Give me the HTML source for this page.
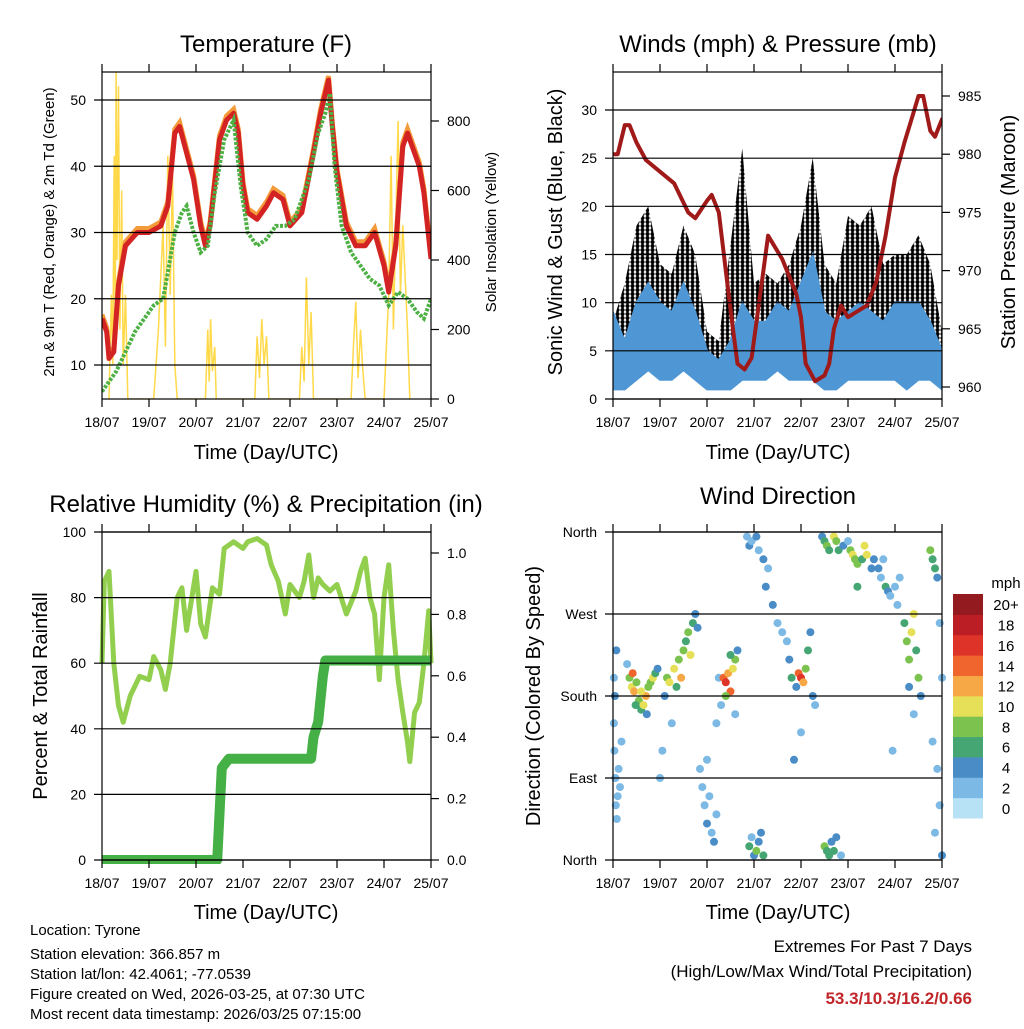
<!DOCTYPE html>
<html><head><meta charset="utf-8"><style>
body{margin:0;background:#fff;}
svg text{font-family:"Liberation Sans",Arial,sans-serif;fill:#000;}
</style></head><body>
<svg id="s" width="1024" height="1024" xmlns="http://www.w3.org/2000/svg">
<defs>
<pattern id="dots" width="5" height="4" patternUnits="userSpaceOnUse"><circle cx="2.5" cy="2" r="2.1" fill="#000"/></pattern>
</defs>
<rect width="1024" height="1024" fill="#fff"/>
<g font-size="24" text-anchor="middle">
<text x="266" y="52">Temperature (F)</text>
<text x="778" y="52">Winds (mph) &amp; Pressure (mb)</text>
<text x="266" y="512">Relative Humidity (%) &amp; Precipitation (in)</text>
<text x="778" y="504">Wind Direction</text>
</g>
<g font-size="20" text-anchor="middle">
<text x="266" y="459">Time (Day/UTC)</text>
<text x="778" y="459">Time (Day/UTC)</text>
<text x="266" y="919">Time (Day/UTC)</text>
<text x="778" y="919">Time (Day/UTC)</text>
<text transform="translate(562,232) rotate(-90)">Sonic Wind &amp; Gust (Blue, Black)</text>
<text transform="translate(1015,232) rotate(-90)">Station Pressure (Maroon)</text>
<text transform="translate(47,696) rotate(-90)">Percent &amp; Total Rainfall</text>
<text transform="translate(540,696) rotate(-90)">Direction (Colored By Speed)</text>
</g>
<g font-size="15" text-anchor="middle">
<text transform="translate(54,232) rotate(-90)">2m &amp; 9m T (Red, Orange) &amp; 2m Td (Green)</text>
<text transform="translate(496,232) rotate(-90)">Solar Insolation (Yellow)</text>
</g>
<g font-size="15">
<text x="30" y="935">Location: Tyrone</text>
<text x="30" y="959">Station elevation: 366.857 m</text>
<text x="30" y="979">Station lat/lon: 42.4061; -77.0539</text>
<text x="30" y="999">Figure created on Wed, 2026-03-25, at 07:30 UTC</text>
<text x="30" y="1019">Most recent data timestamp: 2026/03/25 07:15:00</text>
</g>
<g font-size="17" text-anchor="end">
<text x="972" y="952">Extremes For Past 7 Days</text>
<text x="972" y="977">(High/Low/Max Wind/Total Precipitation)</text>
<text x="972" y="1004" font-weight="bold" style="fill:#c0262a">53.3/10.3/16.2/0.66</text>
</g>
<g id="dyn"></g>
</svg>
<script>
// ---------- data ----------
const dayLabels=["18/07","19/07","20/07","21/07","22/07","23/07","24/07","25/07"];
const tempTicks=[10,20,30,40,50];
const solarTicks=[0,200,400,600,800];
const windTicks=[0,5,10,15,20,25,30];
const presTicks=[960,965,970,975,980,985];
const rhTicks=[0,20,40,60,80,100];
const rainTicks=[0.0,0.2,0.4,0.6,0.8,1.0];
const dirTicks=[0,90,180,270,360];
const dirTickLabels=["North","East","South","West","North"];
const speedBins=["0","2","4","6","8","10","12","14","16","18","20+"];
const speedColors=["#b7e2f6","#7cb9e4","#4a8cc6","#45a673","#7cc24f","#e6e058","#f7a846","#f0642e","#de3328","#bb1e25","#931a1e"];

const tempT=[0,0.1,0.15,0.25,0.35,0.5,0.75,1.0,1.25,1.4,1.55,1.65,1.8,1.95,2.1,2.2,2.3,2.5,2.65,2.8,2.9,3.0,3.1,3.3,3.5,3.65,3.85,4.0,4.25,4.5,4.65,4.75,4.82,4.9,5.0,5.2,5.4,5.6,5.8,6.0,6.1,6.25,6.4,6.5,6.6,6.75,6.85,7.0];
const tempV=[17,15,11,12,22,28,30,30,31,34,45,46,42,38,31,28,31,44,47,48,45,37,33,32,34,36,35,31,33,42,48,51,53,46,39,31,28,28,30,25,21,28,43,45,43,40,36,26];
const dewT=[0,0.2,0.3,0.5,0.7,0.9,1.1,1.3,1.4,1.55,1.7,1.8,1.95,2.1,2.25,2.4,2.6,2.8,2.95,3.1,3.3,3.5,3.7,3.9,4.1,4.4,4.6,4.75,4.85,4.95,5.1,5.3,5.5,5.7,5.9,6.1,6.3,6.5,6.7,6.85,7.0];
const dewV=[6,8,9,12,15,17,19,20,24,30,33,34,30,27,28,36,44,47,37,30,28,29,31,31,32,38,45,48,51,40,31,27,25,23,22,19,21,20,18,17,20];
const solarT=[0.15,0.2,0.23,0.26,0.28,0.3,0.32,0.35,0.38,0.42,0.45,0.5,0.55,1.1,1.2,1.3,1.35,1.4,1.45,1.5,1.55,1.6,2.2,2.25,2.28,2.31,2.35,2.4,2.43,3.25,3.3,3.35,3.4,3.45,3.5,3.55,4.2,4.25,4.3,4.35,4.4,4.45,4.5,5.3,5.35,5.4,5.45,5.5,5.55,5.6,6.0,6.1,6.15,6.2,6.3,6.35,6.4,6.5,6.55];
const solarV=[0,300,100,700,200,950,400,900,200,600,100,300,0,0,200,500,150,700,300,650,100,0,0,200,50,230,80,150,0,0,180,60,230,100,180,0,0,150,50,350,100,250,0,0,150,280,60,200,80,0,0,300,700,200,800,300,500,200,0];

const windT=[0,0.25,0.5,0.75,1,1.25,1.5,1.75,2,2.25,2.5,2.75,3,3.25,3.5,3.75,4,4.25,4.5,4.75,5,5.25,5.5,5.75,6,6.25,6.5,6.75,7];
const speedHi=[9,6,10,12,10,9,12,9,5,4,6,10,8,8,10,9,12,15,9,8,9,10,9,8,10,10,10,8,5];
const speedLo=[1,1,2,3,2,2,3,2,1,1,1,2,2,2,3,2,2,2,1,1,2,2,2,2,2,1,2,2,1];
const gustHi=[8,12,18,20,14,13,18,15,7,6,16,26,12,13,12,14,18,25,14,12,19,18,20,14,15,15,17,14,7];
const gustLo=[3,3,5,6,5,5,6,5,2,2,3,5,4,4,5,4,5,5,3,3,4,5,5,4,4,3,4,4,2];
const presT=[0,0.1,0.25,0.35,0.5,0.7,1,1.3,1.6,1.75,2,2.1,2.25,2.4,2.55,2.65,2.8,2.95,3.1,3.3,3.45,3.6,3.8,3.9,4.0,4.1,4.3,4.5,4.6,4.7,4.85,5,5.2,5.4,5.6,5.8,6,6.2,6.35,6.5,6.6,6.75,6.85,7,7.05];
const presV=[980,980,982.5,982.5,981,979.5,978.5,977.5,975,974.5,976,976.5,975,970,965,962,961.5,962.5,967,973,972,971,969,968,966,962,960.5,961,962,965,967,966,966.5,967,969,973,978,981,983,985,985,982,981.5,983,982.5];

const rhT=[0,0.05,0.15,0.25,0.35,0.45,0.6,0.8,1,1.1,1.25,1.35,1.45,1.6,1.7,1.8,2.0,2.1,2.2,2.35,2.5,2.6,2.8,3.0,3.1,3.3,3.5,3.6,3.75,3.9,4.0,4.1,4.2,4.3,4.4,4.5,4.6,4.7,4.85,5.0,5.2,5.4,5.5,5.6,5.7,5.8,5.9,6.0,6.1,6.2,6.3,6.4,6.5,6.55,6.65,6.75,6.85,6.95,7.0];
const rhV=[60,85,88,60,47,42,50,56,55,62,58,52,60,80,83,70,88,72,68,83,81,95,97,95,97,98,96,90,85,75,84,82,80,85,93,80,86,84,82,84,75,82,88,92,80,75,55,80,90,70,55,45,36,30,45,48,60,76,60];
const rainT=[0,2.45,2.5,2.55,2.7,4.45,4.5,4.6,4.7,4.75,7.0];
const rainV=[0,0,0.15,0.30,0.33,0.33,0.40,0.45,0.60,0.65,0.65];

const dirT=[0.02,0.03,0.05,0.06,0.08,0.1,0.04,0.12,0.15,0.02,0.07,0.18,
0.35,0.4,0.45,0.5,0.55,0.6,0.65,0.7,0.75,0.8,0.85,0.9,0.42,0.6,0.48,0.72,0.3,0.95,
1.1,1.15,1.2,1.3,1.4,1.45,1.5,1.55,1.6,1.7,1.75,1.65,1.35,1.8,1.25,1.05,1.0,
1.85,1.9,1.95,2.0,2.05,2.1,2.15,2.2,2.0,2.25,2.3,2.2,
2.35,2.4,2.45,2.5,2.55,2.6,2.65,2.4,2.5,2.6,
2.85,2.9,2.95,3.05,3.1,3.2,3.25,3.3,2.9,3.0,3.05,3.1,3.2,2.95,3.15,
3.4,3.5,3.6,3.7,3.75,
3.8,3.9,3.95,4.0,4.05,4.1,4.15,4.2,4.25,4.3,4.0,3.85,
4.45,4.5,4.55,4.6,4.7,4.75,4.8,4.9,5.0,4.5,4.55,4.6,4.65,4.7,4.75,4.85,
5.05,5.1,5.15,5.2,5.3,5.4,5.5,5.55,5.2,5.35,
5.65,5.7,5.8,5.85,5.9,6.0,6.05,5.75,5.95,6.1,
6.2,6.25,6.3,6.35,6.4,6.45,6.5,6.55,6.3,6.4,
6.75,6.8,6.85,6.9,6.95,7.0,6.9,6.95,7.0,6.8,6.85];
const dirD=[150,120,90,60,45,70,180,100,80,200,230,130,
200,190,185,195,175,165,170,180,190,195,200,205,205,185,170,160,215,210,
180,200,195,210,220,200,230,240,250,260,270,225,190,255,150,120,90,
100,80,60,40,70,30,20,50,110,200,170,150,
200,195,205,185,210,220,230,180,225,160,
355,345,350,355,340,330,300,320,15,5,10,20,5,25,30,
280,260,250,240,220,
200,190,205,200,195,210,230,250,180,170,140,110,
355,350,345,340,355,350,340,345,350,15,10,5,20,10,25,5,
340,335,330,325,330,335,320,330,300,345,
320,310,300,295,290,300,280,330,120,310,
260,240,220,250,270,230,200,180,190,160,
340,330,320,310,260,200,100,60,5,130,30];
const dirS=[3,2,3,2,3,2,4,3,2,3,4,2,
8,10,12,9,8,6,10,12,9,8,11,6,14,11,7,5,3,4,
4,8,10,11,9,12,8,6,9,7,4,11,6,5,3,2,2,
3,2,3,4,3,2,4,3,2,3,2,2,
14,16,12,14,10,8,5,8,6,3,
3,4,2,4,3,4,5,3,6,5,8,4,6,3,4,
4,3,2,3,4,
6,4,14,16,12,8,6,4,5,3,3,4,
4,6,8,6,10,8,6,4,3,8,6,7,5,6,4,3,
8,10,9,8,6,10,4,5,6,11,
4,3,6,4,3,2,3,3,3,2,
6,8,9,11,10,7,8,5,4,3,
8,7,6,4,3,3,3,2,4,2,3];

// ---------- drawing ----------
const NS="http://www.w3.org/2000/svg";
const root=document.getElementById('dyn');
function mk(tag,attrs,parent){const e=document.createElementNS(NS,tag);for(const k in attrs)e.setAttribute(k,attrs[k]);(parent||root).appendChild(e);return e;}
function lin(d0,d1,r0,r1){return v=>r0+(v-d0)*(r1-r0)/(d1-d0);}
function pathOf(xs,ys,fx,fy){return xs.map((t,i)=>(i?'L':'M')+fx(t).toFixed(1)+','+fy(ys[i]).toFixed(1)).join('');}

function frame(px0,py0,px1,py1,name,leftTicks,fyL,leftLabels,rightTicks,fyR,rightLabels,fx){
  const g=mk('g',{});
  
  
  leftTicks.forEach((v,i)=>{
    const y=fyL(v);
    const gl=mk('line',{x1:px0-8,x2:px1,y1:y,y2:y,stroke:'#000','stroke-width':1.2},g);
    
    
    const t=mk('text',{x:px0-16,y:y+5,'text-anchor':'end','font-size':14},g);
    t.textContent=leftLabels?leftLabels[i]:v;
    
    
  });
  if(rightTicks){rightTicks.forEach((v,i)=>{
    const y=fyR(v);
    mk('line',{x1:px1,x2:px1+8,y1:y,y2:y,stroke:'#000','stroke-width':1.2},g);
    const t=mk('text',{x:px1+16,y:y+5,'font-size':14},g);
    t.textContent=rightLabels[i];
    
    
  });}
  dayLabels.forEach((lab,i)=>{
    const x=fx(i);
    mk('line',{x1:x,x2:x,y1:py1,y2:py1+8,stroke:'#000','stroke-width':1.2},g);
    mk('line',{x1:x,x2:x,y1:py0,y2:py0-8,stroke:'#000','stroke-width':1.2},g);
    const t=mk('text',{x:x,y:py1+28,'text-anchor':'middle','font-size':14},g);
    t.textContent=lab;
    
    
  });
  const b=mk('rect',{x:px0,y:py0,width:px1-px0,height:py1-py0,fill:'none',stroke:'#000','stroke-width':1.2},g);
  
  
}

// Panel 1: temperature
{
 const fx=lin(0,7,102,431), fy=lin(10,50,365,100), fs=lin(0,800,399,121);
 const clip=mk('clipPath',{id:'c1'});mk('rect',{x:102,y:72,width:329,height:327},clip);
 const g=mk('g',{'clip-path':'url(#c1)'});
 const sol=mk('path',{d:pathOf(solarT,solarV,fx,fs),fill:'none',stroke:'#ffd94a','stroke-width':1.5},g);
 
 
 const or=mk('path',{d:pathOf(tempT,tempV.map(v=>v+0.6),fx,fy),fill:'none',stroke:'#f39a3a','stroke-width':5},g);
 
 
 const rd=mk('path',{d:pathOf(tempT,tempV,fx,fy),fill:'none',stroke:'#d42323','stroke-width':5,'stroke-linejoin':'round'},g);
 
 
 const gr=mk('path',{d:pathOf(dewT,dewV,fx,fy),fill:'none',stroke:'#4cb043','stroke-width':4,'stroke-dasharray':'3,1.5'},g);
 
 
 frame(102,72,431,399,'temperature',tempTicks,fy,null,solarTicks,fs,solarTicks,fx);
}
// Panel 2: winds
{
 const fx=lin(0,7,613,942), fy=lin(0,30,399,110), fp=lin(960,985,387,96);
 const clip=mk('clipPath',{id:'c2'});mk('rect',{x:613,y:72,width:329,height:327},clip);
 const g=mk('g',{'clip-path':'url(#c2)'});
 const gd='M'+windT.map((t,i)=>fx(t)+','+fy(gustHi[i])).join('L')+'L'+windT.slice().reverse().map((t,i)=>fx(t)+','+fy(gustLo[gustLo.length-1-i])).join('L')+'Z';
 const ga=mk('path',{d:gd,fill:'url(#dots)',stroke:'none'},g);
 
 
 const sd='M'+windT.map((t,i)=>fx(t)+','+fy(speedHi[i])).join('L')+'L'+windT.slice().reverse().map((t,i)=>fx(t)+','+fy(speedLo[speedLo.length-1-i])).join('L')+'Z';
 const sa=mk('path',{d:sd,fill:'#4f97d4',stroke:'#4f97d4','stroke-width':2},g);
 
 
 const pl=mk('path',{d:pathOf(presT,presV,fx,fp),fill:'none',stroke:'#a01a1a','stroke-width':4,'stroke-linejoin':'round'},g);
 
 
 frame(613,72,942,399,'winds',windTicks,fy,null,presTicks,fp,presTicks,fx);
}
// Panel 3: humidity
{
 const fx=lin(0,7,102,431), fy=lin(0,100,860,532), fr=lin(0,1,860,553);
 const clip=mk('clipPath',{id:'c3'});mk('rect',{x:98,y:528,width:337,height:336},clip);
 const g=mk('g',{'clip-path':'url(#c3)'});
 const rh=mk('path',{d:pathOf(rhT,rhV,fx,fy),fill:'none',stroke:'#93cf4e','stroke-width':5,'stroke-linejoin':'round'},g);
 
 
 const rn=mk('path',{d:pathOf(rainT,rainV,fx,fr),fill:'none',stroke:'#45b046','stroke-width':10,'stroke-linejoin':'round'},g);
 
 
 frame(102,532,431,860,'humidity',rhTicks,fy,null,rainTicks,fr,rainTicks.map(v=>v.toFixed(1)),fx);
}
// Panel 4: wind direction
{
 const fx=lin(0,7,613,942), fy=lin(0,360,860,532);
 const g=mk('g',{});
 dirT.forEach((t,i)=>{
  const bin=Math.min(10,Math.floor(dirS[i]/2));
  const c=mk('circle',{cx:fx(t).toFixed(1),cy:fy(dirD[i]).toFixed(1),r:4,fill:speedColors[bin]},g);
  
  
 });
 frame(613,532,942,860,'direction',dirTicks,fy,dirTickLabels,null,null,null,fx);
 const lg=mk('g',{});
 
 
 const bh=(818-594)/11;
 speedColors.forEach((c,i)=>{
  const y=818-(i+1)*bh;
  const r=mk('rect',{x:953,y:y,width:30,height:bh+0.5,fill:c},lg);
  
  
  const t=mk('text',{x:1006,y:y+bh/2+6,'text-anchor':'middle','font-size':15},lg);
  t.textContent=speedBins[i];
  
  
 });
 const u=mk('text',{x:1006,y:588,'text-anchor':'middle','font-size':15},lg);
 u.textContent='mph';
 
 
}
</script>
</body></html>
